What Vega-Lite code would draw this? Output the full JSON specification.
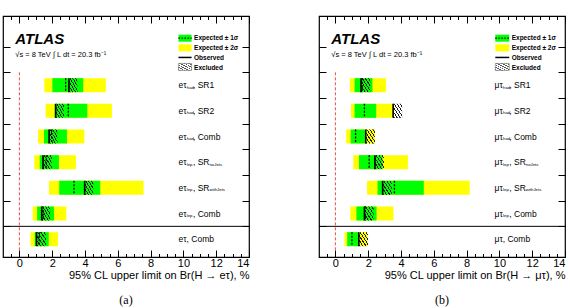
{
  "$schema": "https://vega.github.io/schema/vega-lite/v6.json",
  "background": "white",
  "padding": {"left": 1, "top": 14, "right": 0, "bottom": 0},
  "config": {
    "view": {"stroke": "black", "strokeWidth": 1.2},
    "axis": {"domain": false, "grid": false, "tickColor": "black", "tickWidth": 1, "labelColor": "black", "titleColor": "black", "labelFont": "Liberation Sans", "titleFont": "Liberation Sans", "titleFontWeight": "normal"},
    "text": {"font": "Liberation Sans", "color": "black"}
  },
  "hconcat": [
    {
      "width": 246, "height": 241,
      "title": {"text": "(a)", "orient": "bottom", "font": "Liberation Serif", "fontSize": 12, "fontWeight": "normal", "color": "black", "offset": 15},
      "data": {"values": [
        {"row": 1, "main": "eτ", "sub1": "had", "rest": ", SR1", "sub2": "", "lo2": 1.52, "hi2": 5.27, "lo1": 2.01, "hi1": 3.89, "exp": 2.82, "obs": 3.02, "excl": 3.53},
        {"row": 2, "main": "eτ", "sub1": "had", "rest": ", SR2", "sub2": "", "lo2": 1.60, "hi2": 5.64, "lo1": 2.15, "hi1": 4.14, "exp": 2.98, "obs": 2.21, "excl": 2.72},
        {"row": 3, "main": "eτ", "sub1": "had", "rest": ", Comb", "sub2": "", "lo2": 1.14, "hi2": 3.96, "lo1": 1.50, "hi1": 2.90, "exp": 1.97, "obs": 1.81, "excl": 2.31},
        {"row": 4, "main": "eτ", "sub1": "lep", "rest": ", SR", "sub2": "noJets", "lo2": 0.91, "hi2": 3.45, "lo1": 1.24, "hi1": 2.41, "exp": 1.64, "obs": 1.44, "excl": 1.97},
        {"row": 5, "main": "eτ", "sub1": "lep", "rest": ", SR", "sub2": "withJets", "lo2": 1.81, "hi2": 7.57, "lo1": 2.43, "hi1": 4.93, "exp": 3.33, "obs": 3.98, "excl": 4.50},
        {"row": 6, "main": "eτ", "sub1": "lep", "rest": ", Comb", "sub2": "", "lo2": 0.81, "hi2": 2.86, "lo1": 1.08, "hi1": 2.11, "exp": 1.45, "obs": 1.36, "excl": 1.87},
        {"row": 7, "main": "eτ, Comb", "sub1": "", "rest": "", "sub2": "", "lo2": 0.67, "hi2": 2.35, "lo1": 0.93, "hi1": 1.79, "exp": 1.21, "obs": 1.04, "excl": 1.62}
      ]},
      "resolve": {"axis": {"x": "independent", "y": "independent"}},
      "layer": [
        {"mark": {"type": "point", "opacity": 0},
         "encoding": {
           "x": {"datum": 0, "type": "quantitative", "scale": {"domain": [-1, 14], "nice": false, "zero": false},
                 "axis": {"orient": "bottom", "values": [0, 2, 4, 6, 8, 10, 12, 14], "tickSize": -7, "labelPadding": 7, "labelFontSize": 11, "title": "95% CL upper limit on Br(H → eτ), %", "titleAnchor": "end", "titleFontSize": 11, "titlePadding": 1}},
           "y": {"datum": 0, "type": "quantitative", "scale": {"domain": [-1.5, 7.5], "reverse": true, "nice": false, "zero": false},
                 "axis": {"orient": "left", "values": [-0.5, 0.5, 1.5, 2.5, 3.5, 4.5, 5.5, 6.5], "tickSize": -7, "labels": false, "title": null}}
         }},
        {"mark": {"type": "point", "opacity": 0},
         "encoding": {
           "x": {"datum": 0, "type": "quantitative", "axis": {"orient": "bottom", "values": [-0.5, 0.5, 1, 1.5, 2.5, 3, 3.5, 4.5, 5, 5.5, 6.5, 7, 7.5, 8.5, 9, 9.5, 10.5, 11, 11.5, 12.5, 13, 13.5], "tickSize": -3.5, "labels": false, "title": null}},
           "y": {"datum": 0, "type": "quantitative", "axis": {"orient": "right", "values": [-0.5, 0.5, 1.5, 2.5, 3.5, 4.5, 5.5, 6.5], "tickSize": -7, "labels": false, "title": null}}
         }},
        {"mark": {"type": "point", "opacity": 0},
         "encoding": {
           "x": {"datum": 0, "type": "quantitative", "axis": {"orient": "top", "values": [0, 2, 4, 6, 8, 10, 12, 14], "tickSize": -7, "labels": false, "title": null}},
           "y": {"datum": 0, "type": "quantitative", "axis": null}
         }},
        {"mark": {"type": "point", "opacity": 0},
         "encoding": {
           "x": {"datum": 0, "type": "quantitative", "axis": {"orient": "top", "values": [-0.5, 0.5, 1, 1.5, 2.5, 3, 3.5, 4.5, 5, 5.5, 6.5, 7, 7.5, 8.5, 9, 9.5, 10.5, 11, 11.5, 12.5, 13, 13.5], "tickSize": -3.5, "labels": false, "title": null}},
           "y": {"datum": 0, "type": "quantitative", "axis": null}
         }},
        {"mark": {"type": "bar", "orient": "horizontal", "size": 14, "color": "#ffff00"},
         "encoding": {"x": {"field": "lo2", "type": "quantitative", "axis": null}, "x2": {"field": "hi2"}, "y": {"field": "row", "type": "quantitative", "axis": null}}},
        {"mark": {"type": "bar", "orient": "horizontal", "size": 14, "color": "#00ff00"},
         "encoding": {"x": {"field": "lo1", "type": "quantitative", "axis": null}, "x2": {"field": "hi1"}, "y": {"field": "row", "type": "quantitative", "axis": null}}},
        {"mark": {"type": "bar", "orient": "horizontal", "size": 14,
                  "fill": {"gradient": "linear", "x1": 0, "y1": 1, "x2": 1, "y2": 0, "stops": [
                    {"offset": 0, "color": "rgba(0,0,0,0)"},
                    {"offset": 0.03, "color": "rgba(0,0,0,0)"}, {"offset": 0.03, "color": "#1a1a1a"}, {"offset": 0.09, "color": "#1a1a1a"}, {"offset": 0.09, "color": "rgba(0,0,0,0)"},
                    {"offset": 0.197, "color": "rgba(0,0,0,0)"}, {"offset": 0.197, "color": "#1a1a1a"}, {"offset": 0.257, "color": "#1a1a1a"}, {"offset": 0.257, "color": "rgba(0,0,0,0)"},
                    {"offset": 0.363, "color": "rgba(0,0,0,0)"}, {"offset": 0.363, "color": "#1a1a1a"}, {"offset": 0.423, "color": "#1a1a1a"}, {"offset": 0.423, "color": "rgba(0,0,0,0)"},
                    {"offset": 0.53, "color": "rgba(0,0,0,0)"}, {"offset": 0.53, "color": "#1a1a1a"}, {"offset": 0.59, "color": "#1a1a1a"}, {"offset": 0.59, "color": "rgba(0,0,0,0)"},
                    {"offset": 0.697, "color": "rgba(0,0,0,0)"}, {"offset": 0.697, "color": "#1a1a1a"}, {"offset": 0.757, "color": "#1a1a1a"}, {"offset": 0.757, "color": "rgba(0,0,0,0)"},
                    {"offset": 0.863, "color": "rgba(0,0,0,0)"}, {"offset": 0.863, "color": "#1a1a1a"}, {"offset": 0.923, "color": "#1a1a1a"}, {"offset": 0.923, "color": "rgba(0,0,0,0)"},
                    {"offset": 1, "color": "rgba(0,0,0,0)"}]}},
         "encoding": {"x": {"field": "obs", "type": "quantitative", "axis": null}, "x2": {"field": "excl"}, "y": {"field": "row", "type": "quantitative", "axis": null}}},
        {"mark": {"type": "point", "shape": "M0,-1L0,1", "size": 196, "filled": false, "stroke": "black", "strokeWidth": 1.3, "strokeDash": [2, 1.5], "opacity": 1},
         "encoding": {"x": {"field": "exp", "type": "quantitative", "axis": null}, "y": {"field": "row", "type": "quantitative", "axis": null}}},
        {"mark": {"type": "point", "shape": "M0,-1L0,1", "size": 196, "filled": false, "stroke": "black", "strokeWidth": 1.6, "opacity": 1},
         "encoding": {"x": {"field": "obs", "type": "quantitative", "axis": null}, "y": {"field": "row", "type": "quantitative", "axis": null}}},
        {"data": {"values": [{}]}, "mark": {"type": "rule", "color": "black", "strokeWidth": 1},
         "encoding": {"y": {"datum": 6.5, "type": "quantitative", "axis": null}}},
        {"data": {"values": [{}]}, "mark": {"type": "rule", "color": "#e8504a", "strokeWidth": 1, "strokeDash": [3, 2]},
         "encoding": {"x": {"datum": 0, "type": "quantitative", "axis": null}, "y": {"datum": 0.5, "type": "quantitative", "axis": null}, "y2": {"datum": 7.5}}},
        {"mark": {"type": "text", "align": "left", "baseline": "middle", "fontSize": 8.5},
         "encoding": {"text": {"field": "main"}, "x": {"datum": 9.7, "type": "quantitative", "axis": null}, "y": {"field": "row", "type": "quantitative", "axis": null}}},
        {"mark": {"type": "text", "align": "left", "baseline": "middle", "fontSize": 4.3, "dx": 8.3, "dy": 2.5},
         "encoding": {"text": {"field": "sub1"}, "x": {"datum": 9.7, "type": "quantitative", "axis": null}, "y": {"field": "row", "type": "quantitative", "axis": null}}},
        {"mark": {"type": "text", "align": "left", "baseline": "middle", "fontSize": 8.5, "dx": 14.5},
         "encoding": {"text": {"field": "rest"}, "x": {"datum": 9.7, "type": "quantitative", "axis": null}, "y": {"field": "row", "type": "quantitative", "axis": null}}},
        {"mark": {"type": "text", "align": "left", "baseline": "middle", "fontSize": 4.3, "dx": 31, "dy": 2.5},
         "encoding": {"text": {"field": "sub2"}, "x": {"datum": 9.7, "type": "quantitative", "axis": null}, "y": {"field": "row", "type": "quantitative", "axis": null}}},
        {"data": {"values": [{}]}, "mark": {"type": "text", "text": "ATLAS", "align": "left", "baseline": "alphabetic", "fontSize": 15, "fontWeight": "bold", "fontStyle": "italic"},
         "encoding": {"x": {"datum": -0.25, "type": "quantitative", "axis": null}, "y": {"datum": -0.6, "type": "quantitative", "axis": null}}},
        {"data": {"values": [{}]}, "mark": {"type": "text", "text": "√s = 8 TeV   ∫ L dt = 20.3 fb⁻¹", "align": "left", "baseline": "middle", "fontSize": 7.5},
         "encoding": {"x": {"datum": -0.25, "type": "quantitative", "axis": null}, "y": {"datum": -0.19, "type": "quantitative", "axis": null}}},
        {"data": {"values": [{}]}, "mark": {"type": "bar", "orient": "horizontal", "size": 7, "color": "#00ff00"},
         "encoding": {"x": {"datum": 9.7, "type": "quantitative", "axis": null}, "x2": {"datum": 10.5}, "y": {"datum": -0.83, "type": "quantitative", "axis": null}}},
        {"data": {"values": [{}]}, "mark": {"type": "rule", "color": "black", "strokeWidth": 1.2, "strokeDash": [1.5, 1.5]},
         "encoding": {"x": {"datum": 9.7, "type": "quantitative", "axis": null}, "x2": {"datum": 10.5}, "y": {"datum": -0.83, "type": "quantitative", "axis": null}}},
        {"data": {"values": [{}]}, "mark": {"type": "bar", "orient": "horizontal", "size": 7, "color": "#ffff00"},
         "encoding": {"x": {"datum": 9.7, "type": "quantitative", "axis": null}, "x2": {"datum": 10.5}, "y": {"datum": -0.455, "type": "quantitative", "axis": null}}},
        {"data": {"values": [{}]}, "mark": {"type": "rule", "color": "black", "strokeWidth": 1.5},
         "encoding": {"x": {"datum": 9.7, "type": "quantitative", "axis": null}, "x2": {"datum": 10.5}, "y": {"datum": -0.08, "type": "quantitative", "axis": null}}},
        {"data": {"values": [{}]}, "mark": {"type": "bar", "orient": "horizontal", "size": 7, "stroke": "#666666", "strokeWidth": 0.6,
                  "fill": {"gradient": "linear", "x1": 0, "y1": 1, "x2": 1, "y2": 0, "stops": [
                    {"offset": 0, "color": "#ffffff"},
                    {"offset": 0.03, "color": "#ffffff"}, {"offset": 0.03, "color": "#555555"}, {"offset": 0.09, "color": "#555555"}, {"offset": 0.09, "color": "#ffffff"},
                    {"offset": 0.197, "color": "#ffffff"}, {"offset": 0.197, "color": "#555555"}, {"offset": 0.257, "color": "#555555"}, {"offset": 0.257, "color": "#ffffff"},
                    {"offset": 0.363, "color": "#ffffff"}, {"offset": 0.363, "color": "#555555"}, {"offset": 0.423, "color": "#555555"}, {"offset": 0.423, "color": "#ffffff"},
                    {"offset": 0.53, "color": "#ffffff"}, {"offset": 0.53, "color": "#555555"}, {"offset": 0.59, "color": "#555555"}, {"offset": 0.59, "color": "#ffffff"},
                    {"offset": 0.697, "color": "#ffffff"}, {"offset": 0.697, "color": "#555555"}, {"offset": 0.757, "color": "#555555"}, {"offset": 0.757, "color": "#ffffff"},
                    {"offset": 0.863, "color": "#ffffff"}, {"offset": 0.863, "color": "#555555"}, {"offset": 0.923, "color": "#555555"}, {"offset": 0.923, "color": "#ffffff"},
                    {"offset": 1, "color": "#ffffff"}]}},
         "encoding": {"x": {"datum": 9.7, "type": "quantitative", "axis": null}, "x2": {"datum": 10.5}, "y": {"datum": 0.29, "type": "quantitative", "axis": null}}},
        {"data": {"values": [{}]}, "mark": {"type": "text", "text": ["Expected ± 1σ", "Expected ± 2σ", "Observed", "Excluded"], "align": "left", "baseline": "middle", "fontSize": 6.5, "fontWeight": "bold", "lineHeight": 10},
         "encoding": {"x": {"datum": 10.65, "type": "quantitative", "axis": null}, "y": {"datum": -0.83, "type": "quantitative", "axis": null}}}
      ]
    },
    {
      "width": 246, "height": 241,
      "title": {"text": "(b)", "orient": "bottom", "font": "Liberation Serif", "fontSize": 12, "fontWeight": "normal", "color": "black", "offset": 15},
      "data": {"values": [
        {"row": 1, "main": "μτ", "sub1": "had", "rest": ", SR1", "sub2": "", "lo2": 0.88, "hi2": 3.09, "lo1": 1.17, "hi1": 2.26, "exp": 1.63, "obs": 1.56, "excl": 2.12},
        {"row": 2, "main": "μτ", "sub1": "had", "rest": ", SR2", "sub2": "", "lo2": 0.95, "hi2": 3.50, "lo1": 1.17, "hi1": 2.49, "exp": 1.77, "obs": 3.52, "excl": 4.07},
        {"row": 3, "main": "μτ", "sub1": "had", "rest": ", Comb", "sub2": "", "lo2": 0.66, "hi2": 2.41, "lo1": 0.93, "hi1": 1.85, "exp": 1.23, "obs": 1.85, "excl": 2.41},
        {"row": 4, "main": "μτ", "sub1": "lep", "rest": ", SR", "sub2": "noJets", "lo2": 1.09, "hi2": 4.42, "lo1": 1.44, "hi1": 2.88, "exp": 2.06, "obs": 2.41, "excl": 2.96},
        {"row": 5, "main": "μτ", "sub1": "lep", "rest": ", SR", "sub2": "withJets", "lo2": 1.93, "hi2": 8.19, "lo1": 2.57, "hi1": 5.39, "exp": 3.60, "obs": 2.88, "excl": 3.44},
        {"row": 6, "main": "μτ", "sub1": "lep", "rest": ", Comb", "sub2": "", "lo2": 0.91, "hi2": 3.54, "lo1": 1.28, "hi1": 2.51, "exp": 1.81, "obs": 1.77, "excl": 2.33},
        {"row": 7, "main": "μτ, Comb", "sub1": "", "rest": "", "sub2": "", "lo2": 0.56, "hi2": 1.95, "lo1": 0.72, "hi1": 1.44, "exp": 1.01, "obs": 1.43, "excl": 1.99}
      ]},
      "resolve": {"axis": {"x": "independent", "y": "independent"}},
      "layer": [
        {"mark": {"type": "point", "opacity": 0},
         "encoding": {
           "x": {"datum": 0, "type": "quantitative", "scale": {"domain": [-1, 14], "nice": false, "zero": false},
                 "axis": {"orient": "bottom", "values": [0, 2, 4, 6, 8, 10, 12, 14], "tickSize": -7, "labelPadding": 7, "labelFontSize": 11, "title": "95% CL upper limit on Br(H → μτ), %", "titleAnchor": "end", "titleFontSize": 11, "titlePadding": 1}},
           "y": {"datum": 0, "type": "quantitative", "scale": {"domain": [-1.5, 7.5], "reverse": true, "nice": false, "zero": false},
                 "axis": {"orient": "left", "values": [-0.5, 0.5, 1.5, 2.5, 3.5, 4.5, 5.5, 6.5], "tickSize": -7, "labels": false, "title": null}}
         }},
        {"mark": {"type": "point", "opacity": 0},
         "encoding": {
           "x": {"datum": 0, "type": "quantitative", "axis": {"orient": "bottom", "values": [-0.5, 0.5, 1, 1.5, 2.5, 3, 3.5, 4.5, 5, 5.5, 6.5, 7, 7.5, 8.5, 9, 9.5, 10.5, 11, 11.5, 12.5, 13, 13.5], "tickSize": -3.5, "labels": false, "title": null}},
           "y": {"datum": 0, "type": "quantitative", "axis": {"orient": "right", "values": [-0.5, 0.5, 1.5, 2.5, 3.5, 4.5, 5.5, 6.5], "tickSize": -7, "labels": false, "title": null}}
         }},
        {"mark": {"type": "point", "opacity": 0},
         "encoding": {
           "x": {"datum": 0, "type": "quantitative", "axis": {"orient": "top", "values": [0, 2, 4, 6, 8, 10, 12, 14], "tickSize": -7, "labels": false, "title": null}},
           "y": {"datum": 0, "type": "quantitative", "axis": null}
         }},
        {"mark": {"type": "point", "opacity": 0},
         "encoding": {
           "x": {"datum": 0, "type": "quantitative", "axis": {"orient": "top", "values": [-0.5, 0.5, 1, 1.5, 2.5, 3, 3.5, 4.5, 5, 5.5, 6.5, 7, 7.5, 8.5, 9, 9.5, 10.5, 11, 11.5, 12.5, 13, 13.5], "tickSize": -3.5, "labels": false, "title": null}},
           "y": {"datum": 0, "type": "quantitative", "axis": null}
         }},
        {"mark": {"type": "bar", "orient": "horizontal", "size": 14, "color": "#ffff00"},
         "encoding": {"x": {"field": "lo2", "type": "quantitative", "axis": null}, "x2": {"field": "hi2"}, "y": {"field": "row", "type": "quantitative", "axis": null}}},
        {"mark": {"type": "bar", "orient": "horizontal", "size": 14, "color": "#00ff00"},
         "encoding": {"x": {"field": "lo1", "type": "quantitative", "axis": null}, "x2": {"field": "hi1"}, "y": {"field": "row", "type": "quantitative", "axis": null}}},
        {"mark": {"type": "bar", "orient": "horizontal", "size": 14,
                  "fill": {"gradient": "linear", "x1": 0, "y1": 1, "x2": 1, "y2": 0, "stops": [
                    {"offset": 0, "color": "rgba(0,0,0,0)"},
                    {"offset": 0.03, "color": "rgba(0,0,0,0)"}, {"offset": 0.03, "color": "#1a1a1a"}, {"offset": 0.09, "color": "#1a1a1a"}, {"offset": 0.09, "color": "rgba(0,0,0,0)"},
                    {"offset": 0.197, "color": "rgba(0,0,0,0)"}, {"offset": 0.197, "color": "#1a1a1a"}, {"offset": 0.257, "color": "#1a1a1a"}, {"offset": 0.257, "color": "rgba(0,0,0,0)"},
                    {"offset": 0.363, "color": "rgba(0,0,0,0)"}, {"offset": 0.363, "color": "#1a1a1a"}, {"offset": 0.423, "color": "#1a1a1a"}, {"offset": 0.423, "color": "rgba(0,0,0,0)"},
                    {"offset": 0.53, "color": "rgba(0,0,0,0)"}, {"offset": 0.53, "color": "#1a1a1a"}, {"offset": 0.59, "color": "#1a1a1a"}, {"offset": 0.59, "color": "rgba(0,0,0,0)"},
                    {"offset": 0.697, "color": "rgba(0,0,0,0)"}, {"offset": 0.697, "color": "#1a1a1a"}, {"offset": 0.757, "color": "#1a1a1a"}, {"offset": 0.757, "color": "rgba(0,0,0,0)"},
                    {"offset": 0.863, "color": "rgba(0,0,0,0)"}, {"offset": 0.863, "color": "#1a1a1a"}, {"offset": 0.923, "color": "#1a1a1a"}, {"offset": 0.923, "color": "rgba(0,0,0,0)"},
                    {"offset": 1, "color": "rgba(0,0,0,0)"}]}},
         "encoding": {"x": {"field": "obs", "type": "quantitative", "axis": null}, "x2": {"field": "excl"}, "y": {"field": "row", "type": "quantitative", "axis": null}}},
        {"mark": {"type": "point", "shape": "M0,-1L0,1", "size": 196, "filled": false, "stroke": "black", "strokeWidth": 1.3, "strokeDash": [2, 1.5], "opacity": 1},
         "encoding": {"x": {"field": "exp", "type": "quantitative", "axis": null}, "y": {"field": "row", "type": "quantitative", "axis": null}}},
        {"mark": {"type": "point", "shape": "M0,-1L0,1", "size": 196, "filled": false, "stroke": "black", "strokeWidth": 1.6, "opacity": 1},
         "encoding": {"x": {"field": "obs", "type": "quantitative", "axis": null}, "y": {"field": "row", "type": "quantitative", "axis": null}}},
        {"data": {"values": [{}]}, "mark": {"type": "rule", "color": "black", "strokeWidth": 1},
         "encoding": {"y": {"datum": 6.5, "type": "quantitative", "axis": null}}},
        {"data": {"values": [{}]}, "mark": {"type": "rule", "color": "#e8504a", "strokeWidth": 1, "strokeDash": [3, 2]},
         "encoding": {"x": {"datum": 0, "type": "quantitative", "axis": null}, "y": {"datum": 0.5, "type": "quantitative", "axis": null}, "y2": {"datum": 7.5}}},
        {"mark": {"type": "text", "align": "left", "baseline": "middle", "fontSize": 8.5},
         "encoding": {"text": {"field": "main"}, "x": {"datum": 9.7, "type": "quantitative", "axis": null}, "y": {"field": "row", "type": "quantitative", "axis": null}}},
        {"mark": {"type": "text", "align": "left", "baseline": "middle", "fontSize": 4.3, "dx": 8.6, "dy": 2.5},
         "encoding": {"text": {"field": "sub1"}, "x": {"datum": 9.7, "type": "quantitative", "axis": null}, "y": {"field": "row", "type": "quantitative", "axis": null}}},
        {"mark": {"type": "text", "align": "left", "baseline": "middle", "fontSize": 8.5, "dx": 14.8},
         "encoding": {"text": {"field": "rest"}, "x": {"datum": 9.7, "type": "quantitative", "axis": null}, "y": {"field": "row", "type": "quantitative", "axis": null}}},
        {"mark": {"type": "text", "align": "left", "baseline": "middle", "fontSize": 4.3, "dx": 31.3, "dy": 2.5},
         "encoding": {"text": {"field": "sub2"}, "x": {"datum": 9.7, "type": "quantitative", "axis": null}, "y": {"field": "row", "type": "quantitative", "axis": null}}},
        {"data": {"values": [{}]}, "mark": {"type": "text", "text": "ATLAS", "align": "left", "baseline": "alphabetic", "fontSize": 15, "fontWeight": "bold", "fontStyle": "italic"},
         "encoding": {"x": {"datum": -0.25, "type": "quantitative", "axis": null}, "y": {"datum": -0.6, "type": "quantitative", "axis": null}}},
        {"data": {"values": [{}]}, "mark": {"type": "text", "text": "√s = 8 TeV   ∫ L dt = 20.3 fb⁻¹", "align": "left", "baseline": "middle", "fontSize": 7.5},
         "encoding": {"x": {"datum": -0.25, "type": "quantitative", "axis": null}, "y": {"datum": -0.19, "type": "quantitative", "axis": null}}},
        {"data": {"values": [{}]}, "mark": {"type": "bar", "orient": "horizontal", "size": 7, "color": "#00ff00"},
         "encoding": {"x": {"datum": 9.75, "type": "quantitative", "axis": null}, "x2": {"datum": 10.6}, "y": {"datum": -0.83, "type": "quantitative", "axis": null}}},
        {"data": {"values": [{}]}, "mark": {"type": "rule", "color": "black", "strokeWidth": 1.2, "strokeDash": [1.5, 1.5]},
         "encoding": {"x": {"datum": 9.75, "type": "quantitative", "axis": null}, "x2": {"datum": 10.6}, "y": {"datum": -0.83, "type": "quantitative", "axis": null}}},
        {"data": {"values": [{}]}, "mark": {"type": "bar", "orient": "horizontal", "size": 7, "color": "#ffff00"},
         "encoding": {"x": {"datum": 9.75, "type": "quantitative", "axis": null}, "x2": {"datum": 10.6}, "y": {"datum": -0.455, "type": "quantitative", "axis": null}}},
        {"data": {"values": [{}]}, "mark": {"type": "rule", "color": "black", "strokeWidth": 1.5},
         "encoding": {"x": {"datum": 9.75, "type": "quantitative", "axis": null}, "x2": {"datum": 10.6}, "y": {"datum": -0.08, "type": "quantitative", "axis": null}}},
        {"data": {"values": [{}]}, "mark": {"type": "bar", "orient": "horizontal", "size": 7, "stroke": "#666666", "strokeWidth": 0.6,
                  "fill": {"gradient": "linear", "x1": 0, "y1": 1, "x2": 1, "y2": 0, "stops": [
                    {"offset": 0, "color": "#ffffff"},
                    {"offset": 0.03, "color": "#ffffff"}, {"offset": 0.03, "color": "#555555"}, {"offset": 0.09, "color": "#555555"}, {"offset": 0.09, "color": "#ffffff"},
                    {"offset": 0.197, "color": "#ffffff"}, {"offset": 0.197, "color": "#555555"}, {"offset": 0.257, "color": "#555555"}, {"offset": 0.257, "color": "#ffffff"},
                    {"offset": 0.363, "color": "#ffffff"}, {"offset": 0.363, "color": "#555555"}, {"offset": 0.423, "color": "#555555"}, {"offset": 0.423, "color": "#ffffff"},
                    {"offset": 0.53, "color": "#ffffff"}, {"offset": 0.53, "color": "#555555"}, {"offset": 0.59, "color": "#555555"}, {"offset": 0.59, "color": "#ffffff"},
                    {"offset": 0.697, "color": "#ffffff"}, {"offset": 0.697, "color": "#555555"}, {"offset": 0.757, "color": "#555555"}, {"offset": 0.757, "color": "#ffffff"},
                    {"offset": 0.863, "color": "#ffffff"}, {"offset": 0.863, "color": "#555555"}, {"offset": 0.923, "color": "#555555"}, {"offset": 0.923, "color": "#ffffff"},
                    {"offset": 1, "color": "#ffffff"}]}},
         "encoding": {"x": {"datum": 9.75, "type": "quantitative", "axis": null}, "x2": {"datum": 10.6}, "y": {"datum": 0.29, "type": "quantitative", "axis": null}}},
        {"data": {"values": [{}]}, "mark": {"type": "text", "text": ["Expected ± 1σ", "Expected ± 2σ", "Observed", "Excluded"], "align": "left", "baseline": "middle", "fontSize": 6.5, "fontWeight": "bold", "lineHeight": 10},
         "encoding": {"x": {"datum": 10.75, "type": "quantitative", "axis": null}, "y": {"datum": -0.83, "type": "quantitative", "axis": null}}}
      ]
    }
  ],
  "spacing": 70,
  "bounds": "flush"
}
